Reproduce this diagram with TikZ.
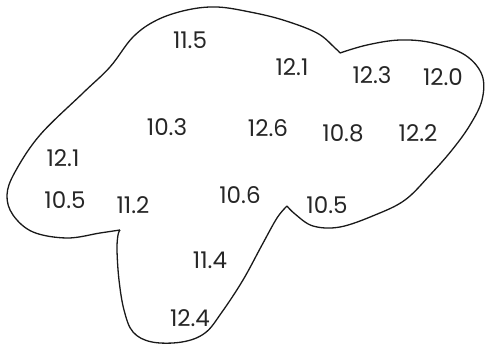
\documentclass[tikz,border=0pt]{standalone}
\usepackage{fontspec}
\setmainfont{Poppins}
\begin{document}
\begin{tikzpicture}[x=1pt,y=-1pt,
  outline/.style={draw=black!90,line width=1.3pt,line join=round},
  val/.style={font=\fontsize{23}{23}\selectfont,inner sep=0pt,text=black!85}]
\useasboundingbox (0,0) rectangle (487,350);
\draw[outline] plot[smooth,tension=0.6] coordinates {(120,230) (100,233) (67,238) (33,232) (13,215) (7,195) (15,172) (40,135) (83,93) (110,67) (133,37) (157,20) (187,10) (217,7) (250,12) (283,20) (317,33) (335,48) (340,53)};
\draw[outline] plot[smooth,tension=0.6] coordinates {(340,53) (367,45) (400,40) (433,43) (465,55) (482,75) (482,100) (470,125) (452,150) (430,175) (405,200) (375,215) (340,227) (313,226) (295,214) (287,206)};
\draw[outline] plot[smooth,tension=0.6] coordinates {(287,206) (277,218) (262,245) (243,280) (222,312) (205,333) (182,342) (152,342) (133,332) (124,310) (119,280) (117,250) (118,235) (120,230)};
\node[val] (a) at (190,40) {11.5};
\node[val] (b) at (292,67) {12.1};
\node[val] (c) at (372,75) {12.3};
\node[val] (d) at (443,77) {12.0};
\node[val] (e) at (167,127) {10.3};
\node[val] (f) at (268,128) {12.6};
\node[val] (g) at (343,133) {10.8};
\node[val] (h) at (418,133) {12.2};
\node[val] (i) at (63,158) {12.1};
\node[val] (j) at (65,200) {10.5};
\node[val] (k) at (133,205) {11.2};
\node[val] (l) at (240,195) {10.6};
\node[val] (m) at (327,205) {10.5};
\node[val] (n) at (210,260) {11.4};
\node[val] (o) at (190,318) {12.4};
\end{tikzpicture}
\end{document}
